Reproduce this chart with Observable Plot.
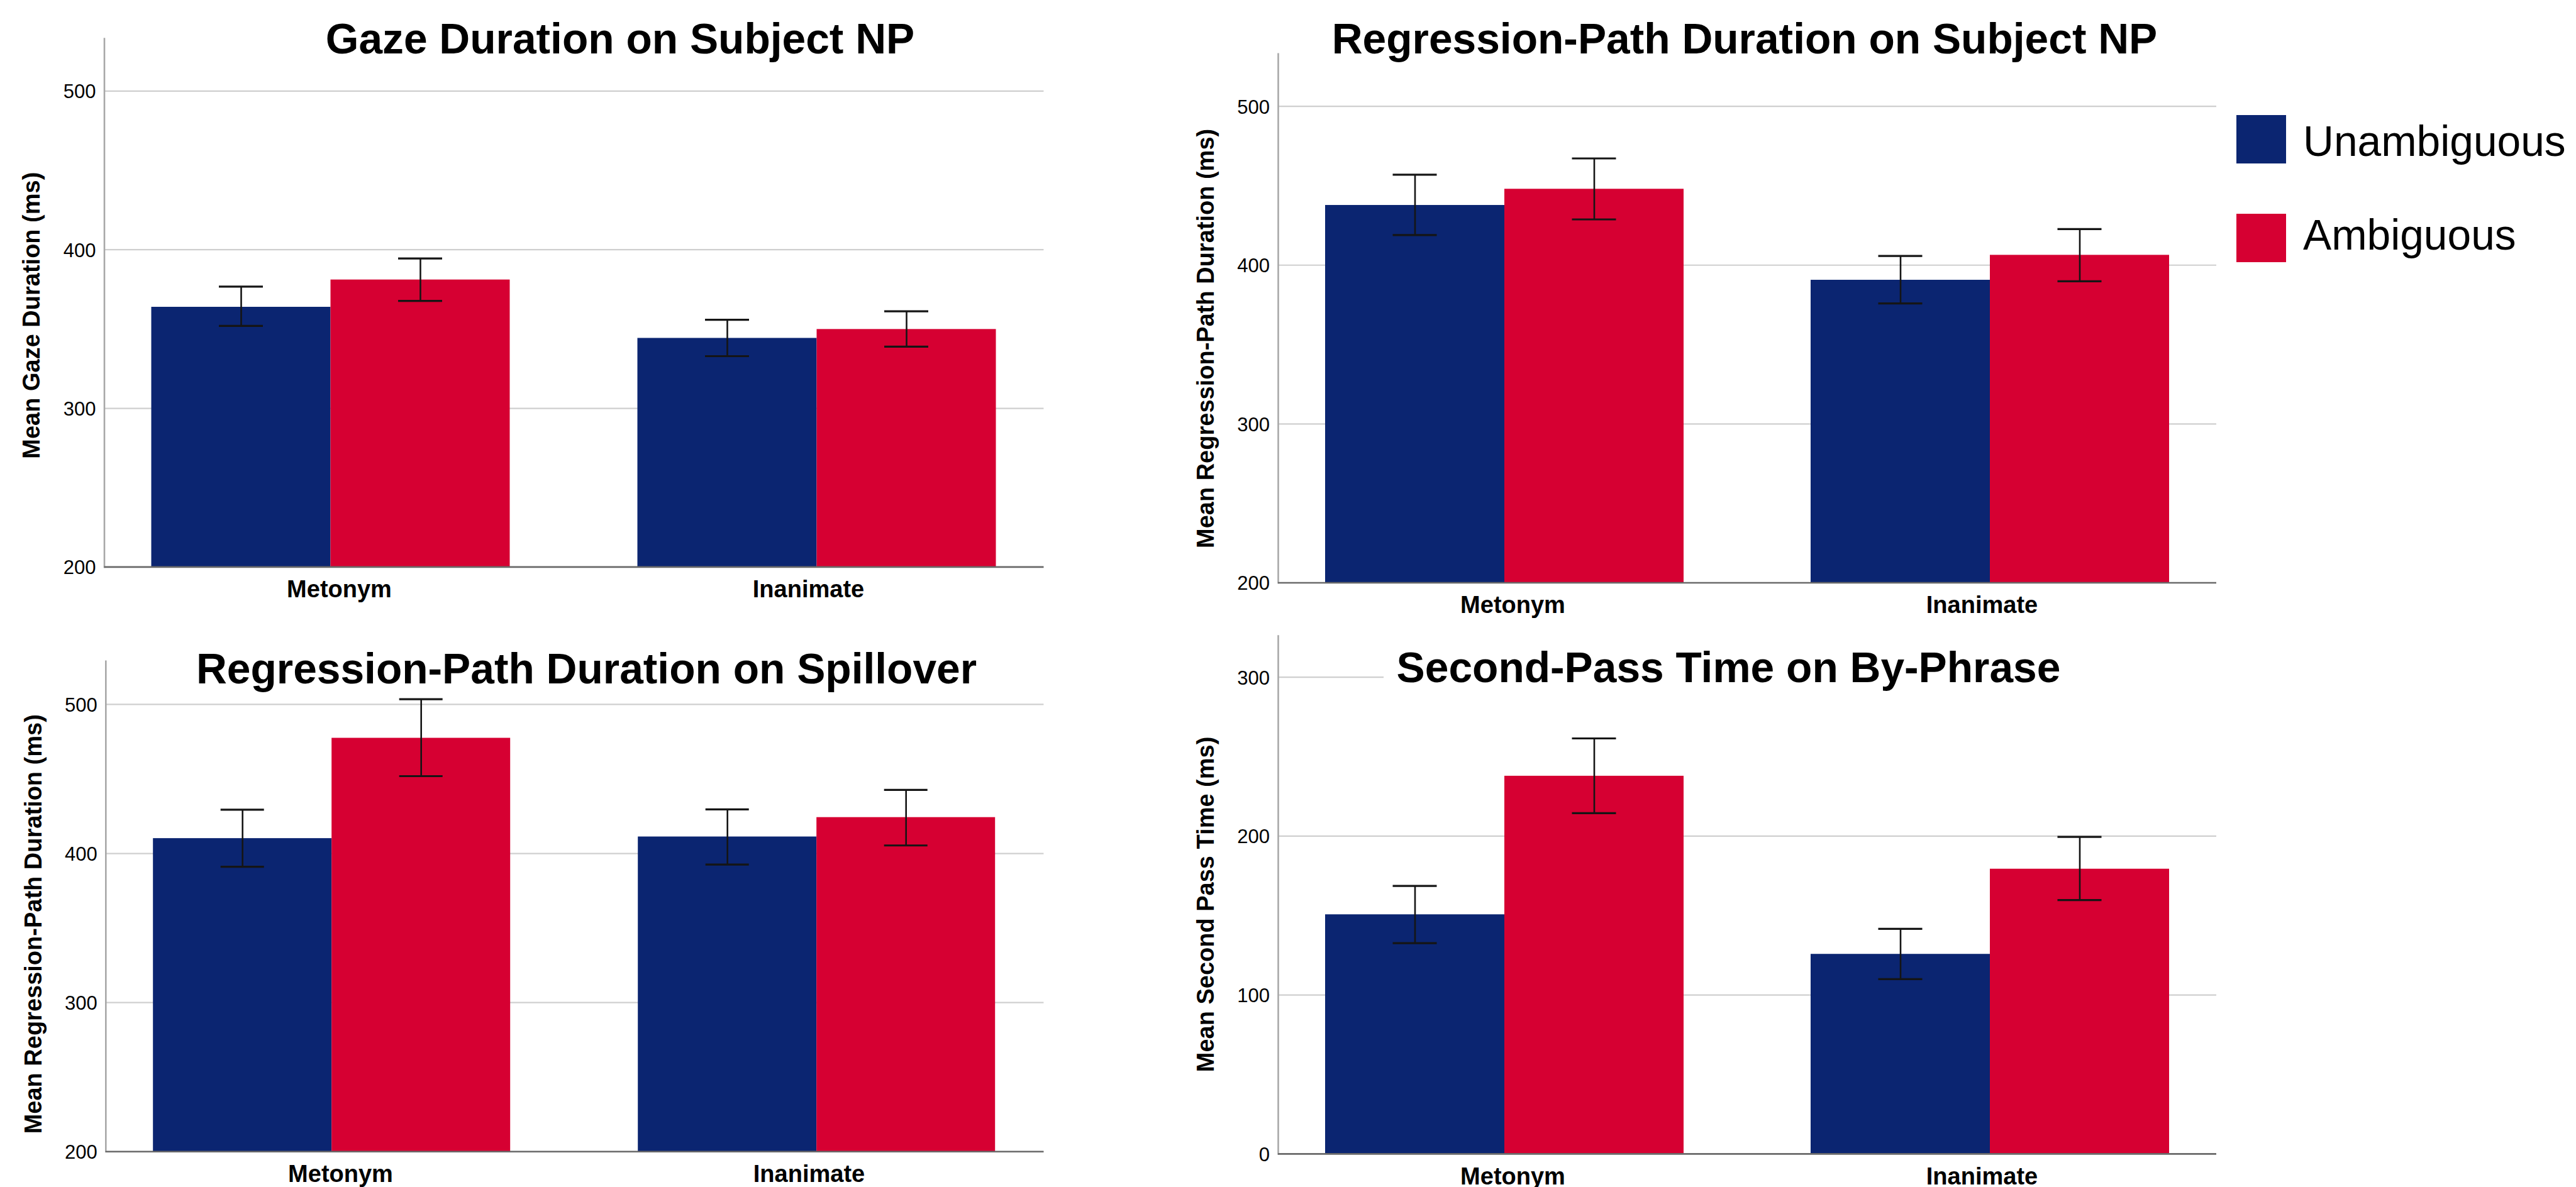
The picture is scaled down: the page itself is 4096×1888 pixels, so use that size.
<!DOCTYPE html>
<html>
<head>
<meta charset="utf-8">
<script src="https://cdn.jsdelivr.net/npm/d3@7"></script>
<script src="https://cdn.jsdelivr.net/npm/@observablehq/plot@0.6"></script>
<style>
  html, body { margin: 0; padding: 0; background: #fff; overflow: hidden; }
  #page { position: relative; width: 4096px; height: 1888px; background: #fff; font-family: "Liberation Sans", Arial, Helvetica, sans-serif; }
  .panel { position: absolute; }
  .panel svg { position: absolute; left: 0; top: 0; }
  .title { position: absolute; font-weight: bold; font-size: 67.7px; line-height: 67.7px; white-space: nowrap; color: #000; }
  .legend-swatch { position: absolute; width: 79px; height: 77px; }
  .legend-text { position: absolute; font-size: 67.7px; line-height: 67.7px; white-space: nowrap; color: #000; }
</style>
</head>
<body>
<div id="page"></div>
<script>
// ---------- data ----------
const categories = ["Metonym", "Inanimate"];
const conditions = ["Unambiguous", "Ambiguous"];
const colors = ["#0b2571", "#d60032"];

// order of values: Metonym-Unambiguous, Metonym-Ambiguous, Inanimate-Unambiguous, Inanimate-Ambiguous
const gazeMean = [363.8, 381.0, 344.2, 349.8];
const gazeLow  = [352.0, 367.7, 332.9, 338.9];
const gazeHigh = [376.7, 394.5, 355.8, 361.2];

const rpSubjMean = [437.7, 447.9, 390.6, 406.3];
const rpSubjLow  = [419.0, 428.8, 375.9, 389.9];
const rpSubjHigh = [457.0, 467.2, 405.8, 422.7];

const rpSpillMean = [410.1, 477.4, 411.2, 424.2];
const rpSpillLow  = [391.1, 451.9, 392.6, 405.4];
const rpSpillHigh = [429.4, 503.5, 429.6, 442.7];

const spMean = [150.6, 237.8, 125.7, 179.3];
const spLow  = [132.7, 214.5, 110.0, 159.8];
const spHigh = [168.7, 261.5, 141.7, 199.5];

const ticks500 = [200, 300, 400, 500];
const ticks300 = [0, 100, 200, 300];

const titles = [
  "Gaze Duration on Subject NP",
  "Regression-Path Duration on Subject NP",
  "Regression-Path Duration on Spillover",
  "Second-Pass Time on By-Phrase"
];
const yLabels = [
  "Mean Gaze Duration (ms)",
  "Mean Regression-Path Duration (ms)",
  "Mean Regression-Path Duration (ms)",
  "Mean Second Pass Time (ms)"
];

// ---------- layout ----------
const FONT = "'Liberation Sans', Arial, Helvetica, sans-serif";
const PAD_INNER = 0.2614, PAD_OUTER = 0.0969;
const panels = [
  {left: 0,    top: 0,   width: 1700, height: 975, mL: 165.5, mR: 40.6, mT: 61.0, mB: 73.6,
   domain: [200, 533], ticks: ticks500, mean: gazeMean, low: gazeLow, high: gazeHigh,
   title: titles[0], yLabel: yLabels[0], labelShift: 20, titleCx: 986, titleTop: 28.0},
  {left: 1850, top: 0,   width: 1700, height: 985, mL: 182, mR: 26, mT: 85.3, mB: 58.5,
   domain: [200, 533], ticks: ticks500, mean: rpSubjMean, low: rpSubjLow, high: rpSubjHigh,
   title: titles[1], yLabel: yLabels[1], labelShift: 32, titleCx: 2774, titleTop: 28.0},
  {left: 0,    top: 980, width: 1700, height: 908, mL: 167.8, mR: 40.6, mT: 71.2, mB: 56.7,
   domain: [200, 529], ticks: ticks500, mean: rpSpillMean, low: rpSpillLow, high: rpSpillHigh,
   title: titles[2], yLabel: yLabels[2], labelShift: 28, titleCx: 932.5, titleTop: 1029.6},
  {left: 1850, top: 985, width: 1700, height: 903, mL: 182, mR: 26, mT: 26, mB: 53.1,
   domain: [0, 326], ticks: ticks300, mean: spMean, low: spLow, high: spHigh,
   title: titles[3], yLabel: yLabels[3], labelShift: 15, titleCx: 2748.5, titleTop: 1028.2, titleMask: true}
];

const page = document.getElementById("page");

function buildRows(p) {
  const rows = [];
  categories.forEach((c, i) => conditions.forEach((k, j) => {
    const n = i * conditions.length + j;
    rows.push({category: c, condition: k, mean: p.mean[n], lo: p.low[n], hi: p.high[n]});
  }));
  return rows;
}

panels.forEach((p) => {
  const rows = buildRows(p);
  const common = {
    width: p.width, height: p.height,
    marginLeft: p.mL, marginRight: p.mR, marginTop: p.mT, marginBottom: p.mB,
    style: {fontFamily: FONT, background: "transparent", overflow: "visible"}
  };

  // background: grid, axes, labels (categories on a band x scale)
  const back = Plot.plot({
    ...common,
    x: {domain: categories, paddingInner: PAD_INNER, paddingOuter: PAD_OUTER, axis: null},
    y: {domain: p.domain, axis: null},
    marks: [
      Plot.ruleY(p.ticks, {stroke: "#cfcfcf", strokeWidth: 2.2}),
      Plot.text(p.ticks, {y: (d) => d, text: (d) => String(d), frameAnchor: "left", textAnchor: "end", dx: -13.5, dy: 1.5, fontSize: 31, fill: "#000"}),
      Plot.text([p.yLabel], {text: (d) => d, frameAnchor: "left", rotate: -90, textAnchor: "middle", lineAnchor: "top", dx: -129.7, dy: p.labelShift, fontSize: 38, fontWeight: "bold", fill: "#000"}),
      Plot.text(categories, {x: (d) => d, text: (d) => d, frameAnchor: "bottom", textAnchor: "middle", lineAnchor: "top", dy: 21.5, fontSize: 38, fontWeight: "bold", fill: "#000"})
    ]
  });

  // foreground: grouped bars with error bars (categories as fx facets)
  const capInset = 107.5;
  const front = Plot.plot({
    ...common,
    fx: {domain: categories, paddingInner: PAD_INNER, paddingOuter: PAD_OUTER, axis: null, label: null},
    x: {domain: conditions, padding: 0, axis: null},
    y: {domain: p.domain, axis: null},
    color: {domain: conditions, range: colors},
    marks: [
      Plot.barY(rows, {fx: "category", x: "condition", y1: p.domain[0], y2: "mean", fill: "condition"}),
      Plot.ruleX(rows, {fx: "category", x: "condition", y1: "lo", y2: "hi", stroke: "#151515", strokeWidth: 2.6}),
      Plot.tickY(rows, {fx: "category", x: "condition", y: "hi", stroke: "#151515", strokeWidth: 3.2, insetLeft: capInset, insetRight: capInset}),
      Plot.tickY(rows, {fx: "category", x: "condition", y: "lo", stroke: "#151515", strokeWidth: 3.2, insetLeft: capInset, insetRight: capInset})
    ]
  });

  // axis lines on top
  const lines = Plot.plot({
    ...common,
    x: {domain: categories, paddingInner: PAD_INNER, paddingOuter: PAD_OUTER, axis: null},
    y: {domain: p.domain, axis: null},
    marks: [
      Plot.frame({anchor: "left", stroke: "#a8a8a8", strokeWidth: 2.6}),
      Plot.ruleY([p.domain[0]], {stroke: "#6a6a6a", strokeWidth: 2.6})
    ]
  });

  const holder = document.createElement("div");
  holder.className = "panel";
  holder.style.left = p.left + "px";
  holder.style.top = p.top + "px";
  holder.style.width = p.width + "px";
  holder.style.height = p.height + "px";
  holder.appendChild(back);
  holder.appendChild(front);
  holder.appendChild(lines);
  page.appendChild(holder);

  const t = document.createElement("div");
  t.className = "title";
  const span = document.createElement("span");
  span.textContent = p.title;
  t.appendChild(span);
  page.appendChild(t);
  t.style.top = p.titleTop + "px";
  const tw = span.getBoundingClientRect().width;
  if (p.titleMask) {
    // the title box has a white background that hides the grid line behind it
    t.style.background = "#fff";
    t.style.boxSizing = "border-box";
    t.style.left = "2200px";
    t.style.width = (3540 - 2200) + "px";
    t.style.paddingLeft = (p.titleCx - tw / 2 - 2200) + "px";
  } else {
    t.style.left = (p.titleCx - tw / 2) + "px";
  }
});

// ---------- legend ----------
const legendTops = [183.3, 340.3];
const legendTextTops = [190.6, 339.7];
conditions.forEach((c, i) => {
  const sw = document.createElement("div");
  sw.className = "legend-swatch";
  sw.style.left = "3556px";
  sw.style.top = legendTops[i] + "px";
  sw.style.background = colors[i];
  page.appendChild(sw);
  const tx = document.createElement("div");
  tx.className = "legend-text";
  tx.style.left = "3662px";
  tx.style.top = legendTextTops[i] + "px";
  tx.textContent = c;
  page.appendChild(tx);
});
</script>
</body>
</html>
